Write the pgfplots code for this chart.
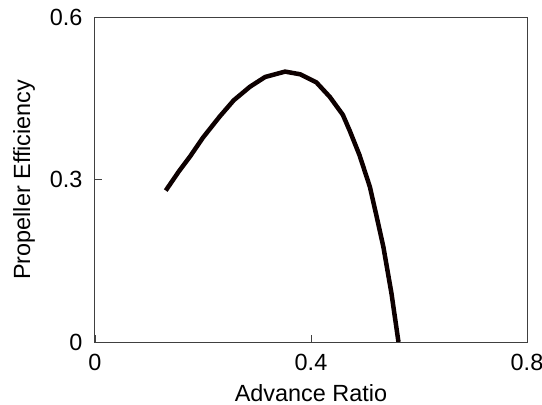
\documentclass[border=0pt]{standalone}
\usepackage{fontspec}
\setmainfont{Liberation Sans}
\usepackage{pgfplots}
\pgfplotsset{compat=1.18}
\begin{document}
\begin{tikzpicture}[font=\fontsize{23.5}{28}\selectfont]
  \useasboundingbox (-95bp,-63bp) rectangle (447bp,342bp);
  \begin{axis}[
    at={(0,0)}, anchor=south west,
    scale only axis,
    width=432bp, height=324.5bp,
    xmin=0, xmax=0.8,
    ymin=0, ymax=0.6,
    xtick={0,0.4,0.8},
    ytick={0,0.3,0.6},
    xticklabels={0,0.4,0.8},
    yticklabels={0,0.3,0.6},
    tick align=inside,
    major tick length=7bp,
    axis line style={black!75, line width=1bp},
    tick style={black!75, line width=0.8bp},
    xtick pos=bottom, ytick pos=left,
    /pgf/number format/assume math mode=true,
    xlabel={Advance Ratio},
    ylabel={Propeller Efficiency},
    xlabel style={at={(axis description cs:0.5,-0.157)}, anchor=center},
    ylabel style={at={(axis description cs:-0.164,0.5)}, anchor=center},
    xticklabel style={yshift=-9bp},
    yticklabel style={xshift=-9bp},
    every x tick label/.append style={xshift=0bp},
  ]
    \addplot[black!95!red, line width=4.5bp, line join=round] coordinates {
      (0.131,0.280)
      (0.155,0.315)
      (0.176,0.343)
      (0.200,0.378)
      (0.231,0.417)
      (0.257,0.447)
      (0.287,0.472)
      (0.315,0.490)
      (0.352,0.500)
      (0.380,0.495)
      (0.410,0.480)
      (0.435,0.453)
      (0.459,0.420)
      (0.472,0.390)
      (0.490,0.345)
      (0.509,0.287)
      (0.522,0.230)
      (0.534,0.176)
      (0.549,0.090)
      (0.562,0.000)
    };
  \end{axis}
\end{tikzpicture}
\end{document}
